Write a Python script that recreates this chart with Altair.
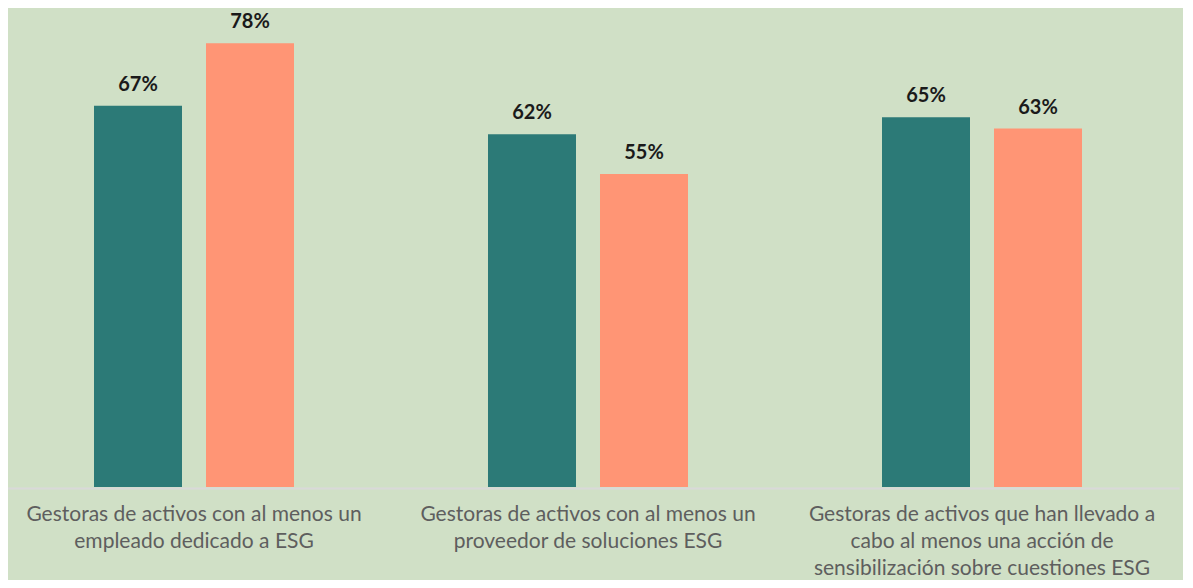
import altair as alt
import pandas as pd

categories = [
    "Gestoras de activos con al menos un\nempleado dedicado a ESG",
    "Gestoras de activos con al menos un\nproveedor de soluciones ESG",
    "Gestoras de activos que han llevado a\ncabo al menos una acción de\nsensibilización sobre cuestiones ESG",
]
series = ["A", "B"]
values_a = [67, 62, 65]
values_b = [78, 55, 63]

rows = []
for c, a, b in zip(categories, values_a, values_b):
    rows.append({"cat": c, "serie": series[0], "val": a})
    rows.append({"cat": c, "serie": series[1], "val": b})
df = pd.DataFrame(rows)
df["lbl"] = df["val"].astype(int).astype(str) + "%"

x = alt.X("cat:N", sort=categories, title=None,
          scale=alt.Scale(type="band", domain=categories, range=[-11, 1171],
                          paddingInner=0, paddingOuter=0),
          axis=alt.Axis(labelAngle=0, labelExpr="split(datum.label, '\\n')",
                        labelFont="Lato", labelFontSize=21, labelColor="#5E5E5E",
                        labelLineHeight=27, labelPadding=15, labelLimit=0,
                        ticks=False, domainColor="#D9D9D9", domainWidth=2,
                        grid=False, labelBaseline="top", offset=1, zindex=1))
xo = alt.XOffset("serie:N", sort=series,
                 scale=alt.Scale(domain=series, range=[97, 297],
                                 paddingInner=0.2143, paddingOuter=0))
y = alt.Y("val:Q", scale=alt.Scale(domain=[0, 84.2], nice=False), axis=None)
color = alt.Color("serie:N", sort=series,
                  scale=alt.Scale(domain=series, range=["#2C7A77", "#FF9575"]),
                  legend=None)

base = alt.Chart(df)
bars = base.mark_bar().encode(x=x, xOffset=xo, y=y, color=color)
labels = base.mark_text(font="Lato", fontSize=20, fontWeight="bold",
                        color="#1A1A1A", baseline="bottom", dy=-11).encode(
    x=x, xOffset=xo, y=y, text="lbl:N")

chart = (bars + labels).properties(
    width=1175, height=479,
    background="#D0E0C6",
    padding={"left": 0, "top": 0, "right": 0, "bottom": 93},
    autosize=alt.AutoSizeParams(type="none"),
).configure_view(stroke=None)

chart.save("out.html", embed_options={"renderer": "svg", "actions": False})
